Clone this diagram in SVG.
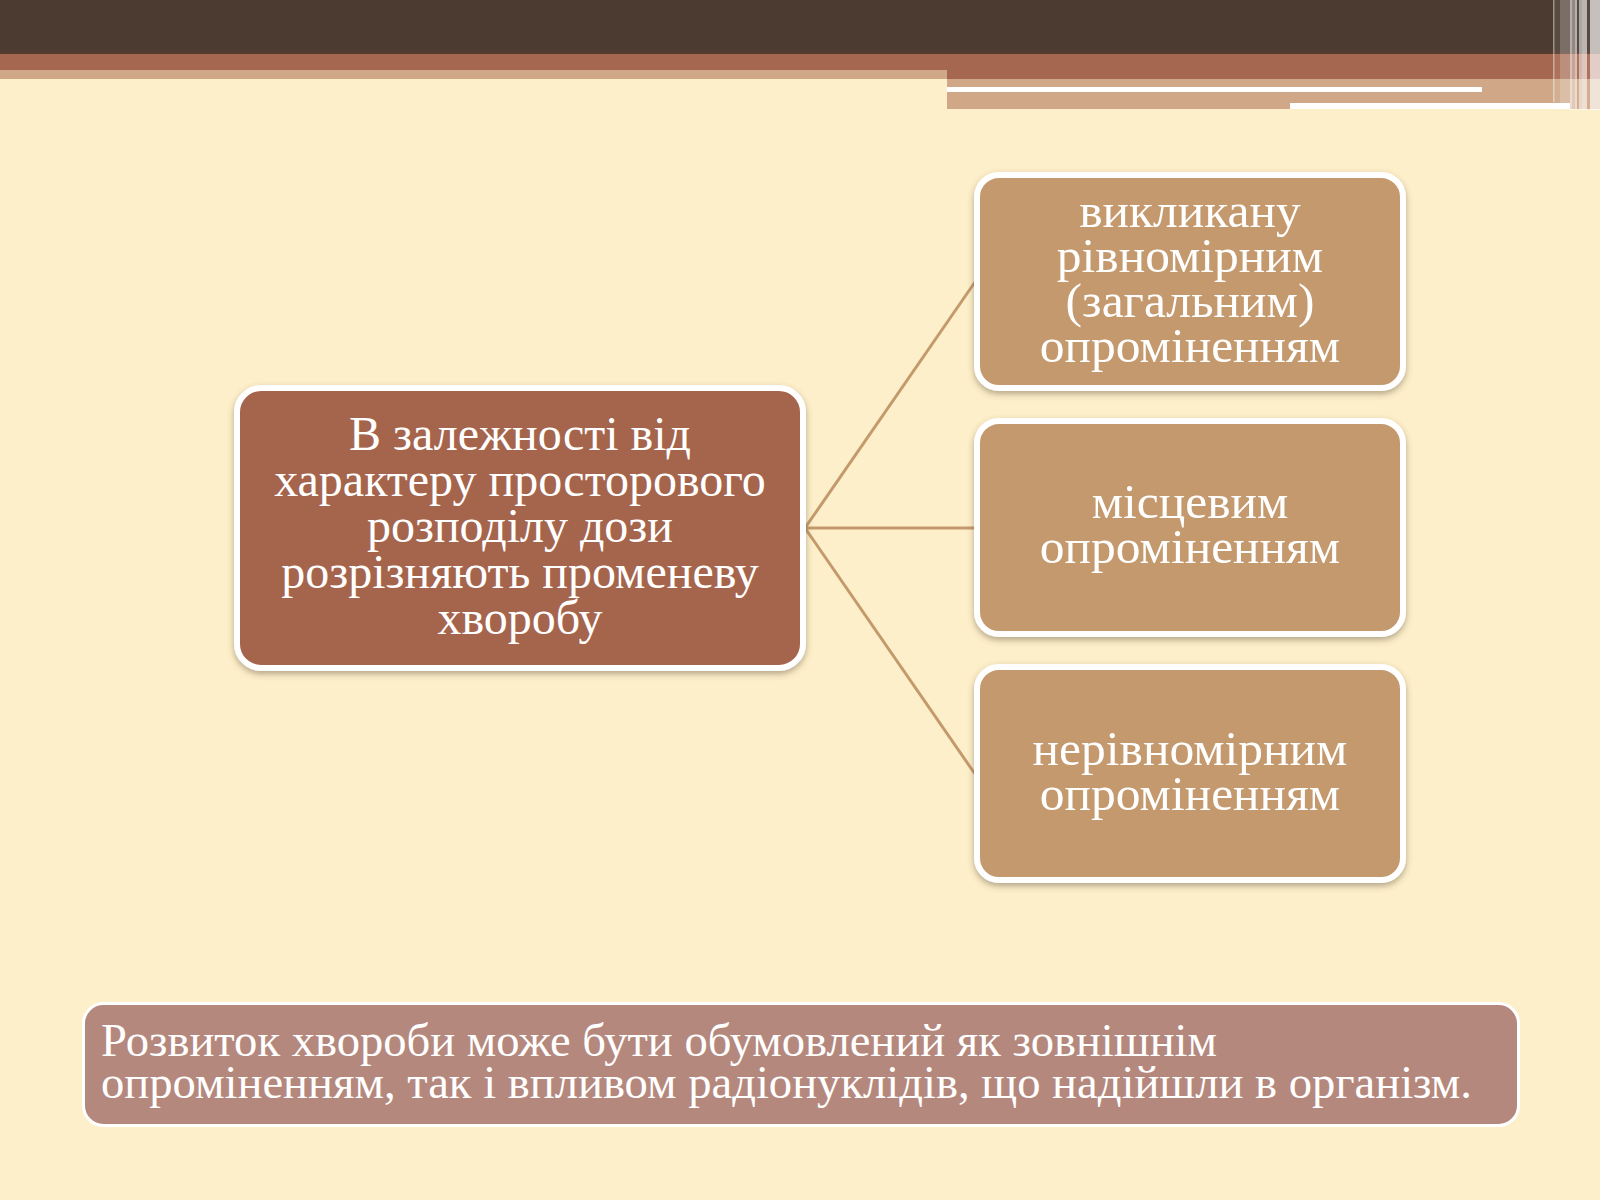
<svg xmlns="http://www.w3.org/2000/svg" width="1600" height="1200" viewBox="0 0 1600 1200">
  <defs>
    <filter id="sh" x="-10%" y="-10%" width="120%" height="130%">
      <feDropShadow dx="0" dy="3" stdDeviation="3" flood-color="#5a4a3a" flood-opacity="0.45"/>
    </filter>
    <style>
      .t { font-family: "Liberation Serif", "DejaVu Serif", serif; fill: #ffffff; }
      .c { text-anchor: middle; font-size: 48px; }
      .r { font-size: 49.5px; }
      .node { stroke: #ffffff; stroke-width: 6; filter: url(#sh); }
      .main { fill: #A5654E; }
      .sub { fill: #C4996D; }
      .conn { stroke: #C49A6C; stroke-width: 3; fill: none; }
    </style>
  </defs>
  <rect x="0" y="0" width="1600" height="1200" fill="#FDEFC9"/>
  <g id="header">
    <rect x="0" y="0" width="1600" height="54" fill="#4B3B30"/>
    <rect x="0" y="51" width="1600" height="3" fill="#553A2E"/>
    <rect x="0" y="54" width="1600" height="16" fill="#A5674F"/>
    <rect x="0" y="70" width="947" height="9" fill="#D0A887"/>
    <rect x="947" y="70" width="653" height="9" fill="#A5674F"/>
    <rect x="947" y="79" width="653" height="30" fill="#D0A887"/>
    <rect x="947" y="87" width="535" height="5" fill="#FFFFFF"/>
    <rect x="1290" y="103" width="280" height="6" fill="#FFFFFF"/>
    <rect x="1553" y="0" width="47" height="110" fill="#FFFFFF" opacity="0.08"/>
    <rect x="1553" y="0" width="1.5" height="102" fill="#FFFFFF" opacity="0.4"/>
    <rect x="1560" y="0" width="10" height="103" fill="#FFFFFF" opacity="0.2"/>
    <rect x="1570" y="0" width="2" height="110" fill="#FFFFFF" opacity="0.55"/>
    <rect x="1572" y="0" width="3" height="110" fill="#FFFFFF" opacity="0.35"/>
    <rect x="1575" y="0" width="2" height="110" fill="#FFFFFF" opacity="0.55"/>
    <rect x="1579" y="0" width="3" height="110" fill="#FFFFFF" opacity="0.5"/>
    <rect x="1582" y="0" width="5" height="110" fill="#FFFFFF" opacity="0.6"/>
    <rect x="1590" y="0" width="10" height="110" fill="#FFFFFF" opacity="0.65"/>
  </g>
  <g id="connectors">
    <line class="conn" x1="805" y1="528" x2="975" y2="282"/>
    <line class="conn" x1="805" y1="528" x2="975" y2="528"/>
    <line class="conn" x1="805" y1="528" x2="975" y2="774"/>
  </g>
  <g id="node-main">
    <rect class="node main" x="237" y="388" width="566" height="280" rx="24"/>
    <text class="t c" x="520" y="450">В залежності від</text>
    <text class="t c" x="520" y="496">характеру просторового</text>
    <text class="t c" x="520" y="542">розподілу дози</text>
    <text class="t c" x="520" y="588">розрізняють променеву</text>
    <text class="t c" x="520" y="634">хворобу</text>
  </g>
  <g id="node-uniform">
    <rect class="node sub" x="977" y="175" width="426" height="213" rx="22"/>
    <text class="t c r" x="1190" y="227">викликану</text>
    <text class="t c r" x="1190" y="272">рівномірним</text>
    <text class="t c r" x="1190" y="317">(загальним)</text>
    <text class="t c r" x="1190" y="362">опроміненням</text>
  </g>
  <g id="node-local">
    <rect class="node sub" x="977" y="421" width="426" height="213" rx="22"/>
    <text class="t c r" x="1190" y="518">місцевим</text>
    <text class="t c r" x="1190" y="563">опроміненням</text>
  </g>
  <g id="node-nonuniform">
    <rect class="node sub" x="977" y="667" width="426" height="213" rx="22"/>
    <text class="t c r" x="1190" y="765">нерівномірним</text>
    <text class="t c r" x="1190" y="810">опроміненням</text>
  </g>
  <g id="node-note">
    <rect x="83.5" y="1003.5" width="1435" height="122" rx="20" fill="#B5887D" stroke="#FFFFFF" stroke-width="3"/>
    <text class="t" x="101" y="1056" font-size="46" textLength="1116" lengthAdjust="spacingAndGlyphs">Розвиток хвороби може бути обумовлений як зовнішнім</text>
    <text class="t" x="101" y="1098" font-size="46" textLength="1371" lengthAdjust="spacingAndGlyphs">опроміненням, так і впливом радіонуклідів, що надійшли в організм.</text>
  </g>
</svg>
